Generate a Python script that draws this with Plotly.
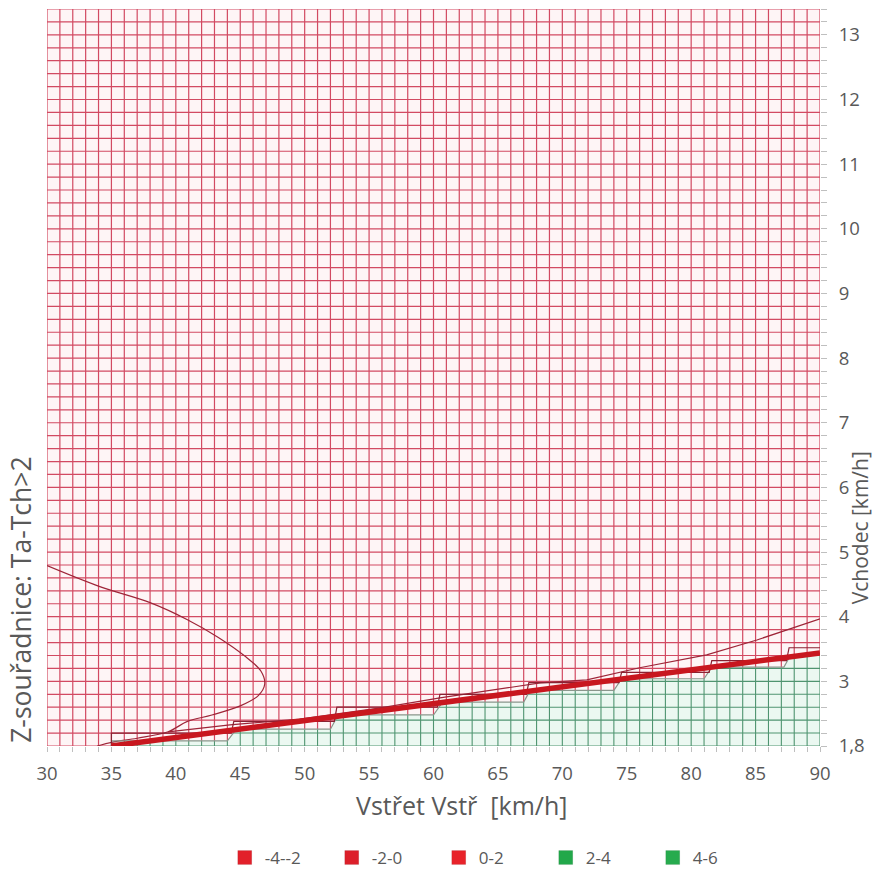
import numpy as np
import plotly.graph_objects as go

# ---- categories / axes -------------------------------------------------
vstret = list(range(30, 91))                      # x categories [km/h]
n_series = 58                                     # series rows (index 0..57)
y_tick_index = [0, 5, 10, 15, 20, 25, 30, 35, 40, 45, 50, 55]
y_tick_labels = ["1,8", "3", "4", "5", "6", "7", "8", "9", "10", "11", "12", "13"]
x_tick_vals = list(range(30, 91, 5))

# ---- contour data (x in km/h, y in series index) --
green_top_x = [35, 44, 44.7, 52, 52.6, 60, 60.7, 67, 67.5, 74, 74.6, 81, 81.6, 87.2, 87.7, 90]
green_top_y = [0.4, 0.4, 1.3, 1.3, 2.4, 2.4, 3.4, 3.4, 4.3, 4.3, 5.2, 5.2, 6.1, 6.1, 7.0, 7.0]

upper_step_x = [35, 35, 44.3, 44.5, 52.3, 52.5, 60.3, 60.5, 67.2, 67.4, 74.4, 74.6, 81.4, 81.6, 87.4, 87.6, 90]
upper_step_y = [0.0, 1.0, 1.0, 1.9, 1.9, 3.0, 3.0, 4.0, 4.0, 4.9, 4.9, 5.7, 5.7, 6.6, 6.6, 7.6, 7.6]

thick_x = [35, 40, 45, 50, 55, 60, 65, 70, 75, 80, 85, 90]
thick_y = [0.0, 0.65, 1.3, 1.95, 2.6, 3.2, 3.85, 4.5, 5.15, 5.8, 6.5, 7.2]

c_curve_x = [30.0, 34.1, 38.0, 40.9, 43.3, 45.3, 46.6, 46.9, 46.4, 45.0, 42.8, 40.9, 39.4, 37.0, 35.1, 33.9]
c_curve_y = [13.95, 12.33, 11.09, 9.77, 8.4, 7.0, 5.8, 4.8, 3.9, 3.1, 2.4, 1.9, 1.1, 0.6, 0.3, 0.0]

upper_thin_x = [39.4, 44.2, 49.6, 55.9, 60.5, 68.3, 71.9, 76.0, 81.2, 85.1, 90.0]
upper_thin_y = [1.1, 1.63, 2.09, 2.95, 3.72, 4.88, 5.12, 6.05, 7.05, 8.2, 9.84]

legend_names = ["-4--2", "-2-0", "0-2", "2-4", "4-6"]
legend_colors = ["#e2202a", "#dc1f2a", "#e8232a", "#22a84a", "#27ab4e"]

# ---- styling -----------------------------------------------------------
RED_LINE = "#d24a62"
GREEN_LINE = "#4f9470"
PINK_BG = "#fef5f6"
GREEN_BG = "#ebf8f1"
TXT = "#595959"
FONT = "Open Sans"

y_top = n_series - 1
x_min, x_max = vstret[0], vstret[-1]


def green_top(x):
    return np.interp(x, green_top_x, green_top_y, left=0.0, right=green_top_y[-1])


fig = go.Figure()

# green area fill
fig.add_trace(go.Scatter(
    x=[green_top_x[0]] + green_top_x + [green_top_x[-1], green_top_x[0]],
    y=[0] + green_top_y + [0, 0],
    fill="toself", fillcolor=GREEN_BG, mode="lines", line=dict(width=0),
    hoverinfo="skip", showlegend=False))

# wireframe grid (red above, green below the green top edge)
rx, ry, gx, gy = [], [], [], []
for xv in vstret:
    b = float(green_top(xv))
    rx += [xv, xv, None]; ry += [b, y_top, None]
    if b > 0:
        gx += [xv, xv, None]; gy += [0, b, None]
xs = np.linspace(x_min, x_max, 60001)
bs = green_top(xs)
for j in range(n_series):
    inside = np.where(bs > j)[0]
    if len(inside):
        xc = float(xs[inside[0]])
        rx += [x_min, xc, None]; ry += [j, j, None]
        gx += [xc, x_max, None]; gy += [j, j, None]
    else:
        rx += [x_min, x_max, None]; ry += [j, j, None]

fig.add_trace(go.Scatter(x=rx, y=ry, mode="lines", line=dict(color=RED_LINE, width=1.2),
                         hoverinfo="skip", showlegend=False))
fig.add_trace(go.Scatter(x=gx, y=gy, mode="lines", line=dict(color=GREEN_LINE, width=1.1),
                         hoverinfo="skip", showlegend=False))

# contour lines
fig.add_trace(go.Scatter(x=upper_thin_x, y=upper_thin_y, mode="lines",
                         line=dict(color="#9e2538", width=1.2), showlegend=False))
fig.add_trace(go.Scatter(x=c_curve_x, y=c_curve_y, mode="lines", line_shape="spline",
                         line=dict(color="#9e2538", width=1.2), showlegend=False))
fig.add_trace(go.Scatter(x=green_top_x, y=green_top_y, mode="lines",
                         line=dict(color="#8a968c", width=1.2), showlegend=False))
fig.add_trace(go.Scatter(x=upper_step_x, y=upper_step_y, mode="lines",
                         line=dict(color="#8a2232", width=1.2), showlegend=False))
fig.add_trace(go.Scatter(x=thick_x, y=thick_y, mode="lines",
                         line=dict(color="#c8171f", width=5.5), showlegend=False))

# legend entries
for name, col in zip(legend_names, legend_colors):
    fig.add_trace(go.Scatter(x=[None], y=[None], mode="markers", name=name,
                             marker=dict(symbol="square", size=14, color=col,
                                         line=dict(color="rgba(0,0,0,0.15)", width=0.5))))

fig.update_layout(
    width=888, height=869,
    margin=dict(l=47, r=68, t=9, b=123, autoexpand=False),
    paper_bgcolor="white", plot_bgcolor=PINK_BG,
    font=dict(family=FONT, color=TXT, size=16),
    showlegend=True,
    legend=dict(orientation="h", x=0.576, xanchor="center", y=-0.152, yanchor="middle",
                entrywidth=62, itemwidth=30, font=dict(size=17, color=TXT),
                bgcolor="rgba(0,0,0,0)", tracegroupgap=0),
    xaxis=dict(range=[x_min, x_max], tickvals=x_tick_vals, ticktext=[str(v) for v in x_tick_vals],
               showgrid=False, zeroline=False, showline=False, automargin=False,
               ticks="outside", ticklen=5, tickcolor="#bfbfbf", ticklabelstandoff=6,
               tickfont=dict(size=18.5, color=TXT),
               minor=dict(dtick=1, tick0=30, ticks="outside", ticklen=5, tickcolor="#bfbfbf", showgrid=False)),
    yaxis=dict(range=[0, y_top], side="right", tickvals=y_tick_index, ticktext=y_tick_labels,
               showgrid=False, zeroline=False, showline=False, automargin=False,
               ticks="outside", ticklen=6, tickcolor="#bfbfbf", ticklabelstandoff=8,
               tickfont=dict(size=18.5, color=TXT),
               minor=dict(dtick=1, tick0=0, ticks="outside", ticklen=6, tickcolor="#bfbfbf", showgrid=False)),
    annotations=[
        dict(text="Vstřet Vstř\u00a0\u00a0[km/h]", xref="paper", yref="paper", x=0.536, y=-0.080,
             showarrow=False, font=dict(size=25, color=TXT), xanchor="center", yanchor="middle"),
        dict(text="Vchodec [km/h]", xref="paper", yref="paper", x=1.051, y=0.296,
             showarrow=False, textangle=-90, font=dict(size=21, color=TXT),
             xanchor="center", yanchor="middle"),
        dict(text="Z-souřadnice: Ta-Tch>2", xref="paper", yref="paper", x=-0.034, y=0.198,
             showarrow=False, textangle=-90, font=dict(size=26.5, color=TXT),
             xanchor="center", yanchor="middle"),
    ],
)

fig.write_html("out.html")
